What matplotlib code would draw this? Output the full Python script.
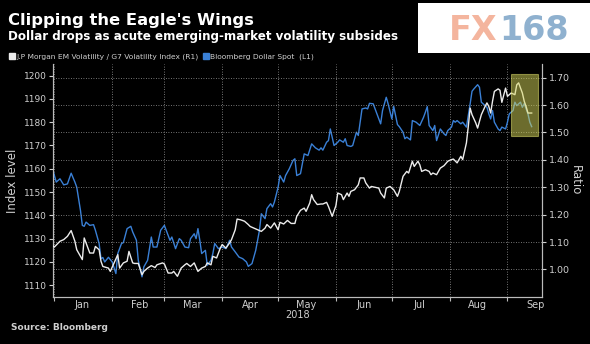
import matplotlib
matplotlib.use('Agg')
import matplotlib.pyplot as plt
import matplotlib.dates as mdates
import pandas as pd
from matplotlib.lines import Line2D
from matplotlib.patches import Rectangle

# Bloomberg Dollar Spot index (left axis)
dollar_dates = [
	'2017-12-31', '2018-01-02', '2018-01-04', '2018-01-06', '2018-01-08', '2018-01-10',
	'2018-01-12', '2018-01-13', '2018-01-15', '2018-01-16', '2018-01-17', '2018-01-18',
	'2018-01-20', '2018-01-22', '2018-01-23', '2018-01-25', '2018-01-26', '2018-01-27',
	'2018-01-28', '2018-01-30', '2018-02-01', '2018-02-03', '2018-02-04', '2018-02-06',
	'2018-02-07', '2018-02-09', '2018-02-11', '2018-02-12', '2018-02-14', '2018-02-15',
	'2018-02-17', '2018-02-18', '2018-02-20', '2018-02-22', '2018-02-23', '2018-02-25',
	'2018-02-27', '2018-03-01', '2018-03-03', '2018-03-04', '2018-03-05', '2018-03-07',
	'2018-03-09', '2018-03-10', '2018-03-12', '2018-03-14', '2018-03-15', '2018-03-17',
	'2018-03-18', '2018-03-19', '2018-03-20', '2018-03-21', '2018-03-23', '2018-03-24',
	'2018-03-26', '2018-03-27', '2018-03-28', '2018-03-30', '2018-04-01', '2018-04-03',
	'2018-04-05', '2018-04-06', '2018-04-08', '2018-04-10', '2018-04-12', '2018-04-14',
	'2018-04-15', '2018-04-17', '2018-04-19', '2018-04-21', '2018-04-22', '2018-04-24',
	'2018-04-25', '2018-04-27', '2018-04-28', '2018-04-29', '2018-05-01', '2018-05-02',
	'2018-05-04', '2018-05-05', '2018-05-07', '2018-05-09', '2018-05-10', '2018-05-11',
	'2018-05-13', '2018-05-14', '2018-05-15', '2018-05-17', '2018-05-19', '2018-05-21',
	'2018-05-23', '2018-05-24', '2018-05-25', '2018-05-27', '2018-05-28', '2018-05-29',
	'2018-05-31', '2018-06-02', '2018-06-03', '2018-06-05', '2018-06-06', '2018-06-07',
	'2018-06-09', '2018-06-10', '2018-06-12', '2018-06-13', '2018-06-15', '2018-06-17',
	'2018-06-18', '2018-06-19', '2018-06-21', '2018-06-23', '2018-06-25', '2018-06-26',
	'2018-06-28', '2018-06-29', '2018-07-01', '2018-07-02', '2018-07-04', '2018-07-05',
	'2018-07-07', '2018-07-08', '2018-07-09', '2018-07-11', '2018-07-12', '2018-07-14',
	'2018-07-16', '2018-07-18', '2018-07-19', '2018-07-20', '2018-07-21', '2018-07-23',
	'2018-07-24', '2018-07-25', '2018-07-27', '2018-07-29', '2018-07-30', '2018-07-31',
	'2018-08-02', '2018-08-03', '2018-08-04', '2018-08-05', '2018-08-07', '2018-08-08',
	'2018-08-10', '2018-08-12', '2018-08-13', '2018-08-14', '2018-08-16', '2018-08-17',
	'2018-08-18', '2018-08-20', '2018-08-21', '2018-08-22', '2018-08-23', '2018-08-24',
	'2018-08-25', '2018-08-27', '2018-08-28', '2018-08-29', '2018-08-31', '2018-09-01',
	'2018-09-02', '2018-09-04', '2018-09-05', '2018-09-06', '2018-09-08', '2018-09-09',
	'2018-09-10', '2018-09-12', '2018-09-13', '2018-09-14',
]
dollar_values = [
	1160.0, 1154.3, 1155.7, 1153.1, 1153.5, 1158.1,
	1154.3, 1152.1, 1142.1, 1135.7, 1135.3, 1137.1,
	1135.7, 1136.0, 1133.6, 1127.9, 1121.4, 1121.9,
	1120.0, 1122.0, 1120.0, 1115.0, 1123.6, 1127.9,
	1128.3, 1134.3, 1135.3, 1132.9, 1129.3, 1120.7,
	1113.6, 1117.9, 1120.7, 1130.7, 1126.4, 1126.4,
	1133.6, 1135.7, 1131.4, 1129.3, 1130.7, 1125.7,
	1130.0, 1129.3, 1126.4, 1126.1, 1130.0, 1132.1,
	1130.0, 1134.3, 1129.3, 1123.6, 1125.0, 1118.6,
	1120.7, 1123.6, 1127.9, 1125.7, 1126.4, 1125.7,
	1129.3, 1126.4, 1124.3, 1122.1, 1121.4, 1120.0,
	1118.1, 1119.3, 1125.0, 1133.6, 1140.7, 1138.6,
	1142.9, 1145.0, 1143.6, 1145.7, 1152.1, 1157.1,
	1154.3, 1157.1, 1160.0, 1163.6, 1164.3, 1157.1,
	1157.9, 1162.1, 1166.4, 1165.7, 1170.7, 1169.0,
	1168.0, 1169.0, 1168.0, 1171.4, 1172.1, 1177.1,
	1170.0, 1171.4, 1172.4, 1171.4, 1172.9, 1170.0,
	1169.6, 1170.0, 1175.7, 1174.3, 1185.7, 1186.1,
	1185.7, 1188.1, 1187.9, 1183.6, 1179.3, 1185.0,
	1190.7, 1187.9, 1181.4, 1186.8, 1179.0, 1178.1,
	1175.7, 1172.9, 1173.6, 1172.4, 1180.7, 1180.0,
	1178.6, 1182.1, 1184.3, 1186.7, 1178.6, 1176.4,
	1178.6, 1172.1, 1177.1, 1175.0, 1174.3, 1176.4,
	1177.9, 1180.7, 1180.0, 1180.7, 1179.3, 1180.0,
	1177.9, 1187.9, 1193.3, 1194.3, 1196.1, 1195.0,
	1188.6, 1187.1, 1186.4, 1183.6, 1181.4, 1185.0,
	1180.0, 1177.1, 1176.4, 1177.9, 1177.1, 1180.0,
	1183.6, 1185.0, 1188.6, 1187.1, 1188.6, 1186.4,
	1188.0, 1183.6, 1180.0, 1178.1,
]

# JP Morgan EM volatility / G7 volatility ratio (right axis)
ratio_dates = [
	'2017-12-31', '2018-01-01', '2018-01-04', '2018-01-06', '2018-01-08', '2018-01-10',
	'2018-01-11', '2018-01-12', '2018-01-13', '2018-01-16', '2018-01-17', '2018-01-18',
	'2018-01-20', '2018-01-22', '2018-01-23', '2018-01-25', '2018-01-26', '2018-01-27',
	'2018-01-30', '2018-01-31', '2018-02-02', '2018-02-04', '2018-02-05', '2018-02-07',
	'2018-02-09', '2018-02-10', '2018-02-12', '2018-02-13', '2018-02-15', '2018-02-17',
	'2018-02-18', '2018-02-20', '2018-02-22', '2018-02-24', '2018-02-25', '2018-02-28',
	'2018-03-01', '2018-03-03', '2018-03-05', '2018-03-06', '2018-03-08', '2018-03-10',
	'2018-03-12', '2018-03-13', '2018-03-15', '2018-03-17', '2018-03-19', '2018-03-21',
	'2018-03-23', '2018-03-24', '2018-03-26', '2018-03-27', '2018-03-29', '2018-03-31',
	'2018-04-01', '2018-04-03', '2018-04-05', '2018-04-06', '2018-04-08', '2018-04-09',
	'2018-04-11', '2018-04-13', '2018-04-15', '2018-04-16', '2018-04-18', '2018-04-20',
	'2018-04-22', '2018-04-24', '2018-04-25', '2018-04-27', '2018-04-29', '2018-05-01',
	'2018-05-02', '2018-05-04', '2018-05-06', '2018-05-08', '2018-05-10', '2018-05-11',
	'2018-05-13', '2018-05-15', '2018-05-16', '2018-05-18', '2018-05-19', '2018-05-20',
	'2018-05-22', '2018-05-24', '2018-05-25', '2018-05-27', '2018-05-28', '2018-05-30',
	'2018-06-01', '2018-06-02', '2018-06-04', '2018-06-05', '2018-06-07', '2018-06-08',
	'2018-06-09', '2018-06-11', '2018-06-13', '2018-06-14', '2018-06-16', '2018-06-17',
	'2018-06-19', '2018-06-20', '2018-06-22', '2018-06-24', '2018-06-25', '2018-06-27',
	'2018-06-28', '2018-06-30', '2018-07-02', '2018-07-04', '2018-07-05', '2018-07-07',
	'2018-07-09', '2018-07-10', '2018-07-12', '2018-07-13', '2018-07-15', '2018-07-16',
	'2018-07-17', '2018-07-19', '2018-07-21', '2018-07-22', '2018-07-23', '2018-07-25',
	'2018-07-27', '2018-07-29', '2018-07-31', '2018-08-02', '2018-08-03', '2018-08-05',
	'2018-08-06', '2018-08-07', '2018-08-08', '2018-08-10', '2018-08-11', '2018-08-12',
	'2018-08-13', '2018-08-15', '2018-08-16', '2018-08-17', '2018-08-18', '2018-08-20',
	'2018-08-21', '2018-08-22', '2018-08-23', '2018-08-24', '2018-08-25', '2018-08-27',
	'2018-08-28', '2018-08-29', '2018-08-31', '2018-09-01', '2018-09-02', '2018-09-03',
	'2018-09-05', '2018-09-06', '2018-09-07', '2018-09-08', '2018-09-09', '2018-09-10',
	'2018-09-11', '2018-09-12', '2018-09-14',
]
ratio_values = [
	1.087, 1.082, 1.103, 1.109, 1.121, 1.142,
	1.123, 1.103, 1.072, 1.036, 1.115, 1.097,
	1.060, 1.060, 1.084, 1.072, 1.030, 1.011,
	1.005, 0.993, 1.024, 1.054, 1.005, 1.024,
	1.030, 1.066, 1.024, 1.022, 1.022, 0.981,
	0.993, 1.005, 1.014, 1.007, 1.017, 1.024,
	1.020, 0.987, 0.987, 0.993, 0.975, 1.005,
	1.017, 1.022, 1.011, 1.024, 0.993, 1.005,
	1.011, 1.024, 1.017, 1.048, 1.042, 1.078,
	1.091, 1.078, 1.097, 1.109, 1.145, 1.184,
	1.181, 1.176, 1.164, 1.157, 1.151, 1.145,
	1.139, 1.151, 1.164, 1.151, 1.170, 1.145,
	1.172, 1.166, 1.179, 1.168, 1.168, 1.194,
	1.216, 1.224, 1.212, 1.243, 1.273, 1.255,
	1.237, 1.239, 1.239, 1.245, 1.230, 1.194,
	1.233, 1.279, 1.273, 1.255, 1.279, 1.267,
	1.285, 1.291, 1.309, 1.334, 1.334, 1.316,
	1.297, 1.303, 1.300, 1.297, 1.279, 1.261,
	1.297, 1.303, 1.291, 1.267, 1.285, 1.340,
	1.358, 1.352, 1.395, 1.376, 1.395, 1.382,
	1.358, 1.364, 1.358, 1.346, 1.352, 1.346,
	1.370, 1.379, 1.395, 1.401, 1.403, 1.389,
	1.401, 1.413, 1.401, 1.462, 1.522, 1.589,
	1.565, 1.535, 1.516, 1.540, 1.565, 1.595,
	1.608, 1.595, 1.571, 1.614, 1.650, 1.659,
	1.654, 1.610, 1.662, 1.632, 1.638, 1.644,
	1.638, 1.674, 1.681, 1.662, 1.644, 1.614,
	1.595, 1.571, 1.571,
]

left_ticks = [1110, 1120, 1130, 1140, 1150, 1160, 1170, 1180, 1190, 1200]
right_ticks = [1.00, 1.10, 1.20, 1.30, 1.40, 1.50, 1.60, 1.70]

BG = 'black'
TXT = '#cfcfcf'
BLUE = '#3a80d6'
WHITE = '#ececec'

dollar = pd.Series(dollar_values, index=pd.to_datetime(dollar_dates))
ratio = pd.Series(ratio_values, index=pd.to_datetime(ratio_dates))

fig = plt.figure(figsize=(5.9, 3.44), dpi=100, facecolor=BG)
ax = fig.add_axes([0.089, 0.137, 0.829, 0.677], facecolor=BG)
ax2 = ax.twinx()

ax.plot(dollar.index, dollar.values, color=BLUE, lw=1.0, zorder=3)
ax2.plot(ratio.index, ratio.values, color=WHITE, lw=1.0, zorder=3)

ax.set_xlim(pd.Timestamp('2017-12-31'), pd.Timestamp('2018-09-19 08:00'))
ax.set_ylim(1105, 1205)
ax2.set_ylim(0.90, 1.75)

ax.set_yticks(left_ticks)
ax2.set_yticks(right_ticks)
ax2.set_yticklabels(['%.2f' % t for t in right_ticks])

# month boundaries carry ticks and grid, labels sit mid-month
ax.xaxis.set_major_locator(mdates.MonthLocator())
ax.xaxis.set_major_formatter(plt.NullFormatter())
ax.xaxis.set_minor_locator(mdates.MonthLocator(bymonthday=16))
ax.xaxis.set_minor_formatter(mdates.DateFormatter('%b'))
ax.tick_params(axis='x', which='minor', length=0, labelsize=7, colors=TXT, pad=2)
ax.tick_params(axis='x', which='major', length=3, color='#bbbbbb', direction='out')
ax.tick_params(axis='y', labelsize=6.5, colors=TXT, length=3, pad=0.8)
ax2.tick_params(axis='y', labelsize=6.8, colors=TXT, length=3, pad=2)

ax.grid(axis='x', which='major', color='#9a9a9a', ls=(0, (1, 2)), lw=0.6)
ax2.grid(axis='y', color='#9a9a9a', ls=(0, (1, 2)), lw=0.6)
ax2.set_axisbelow(True)

for a in (ax, ax2):
	a.spines['top'].set_visible(False)
	for s in ('left', 'right', 'bottom'):
		a.spines[s].set_color('#bbbbbb')
		a.spines[s].set_linewidth(0.8)

ax.set_ylabel('Index level', color=TXT, fontsize=8.5, labelpad=4)
ax2.set_ylabel('Ratio', color=TXT, fontsize=8.5, rotation=270, labelpad=9)
ax.set_xlabel('2018', color=TXT, fontsize=7, labelpad=0)

# highlight on the latest stretch
box_start = mdates.date2num(pd.Timestamp('2018-09-03 04:00'))
box_end = mdates.date2num(pd.Timestamp('2018-09-17 12:00'))
ax2.add_patch(Rectangle((box_start, 1.486), box_end - box_start, 0.228,
	facecolor='#d8d85a', alpha=0.5, edgecolor='#e8e870', lw=0.8, zorder=5))

fig.text(8 / 590, 1 - 25 / 344, "Clipping the Eagle's Wings", color='white',
	fontsize=11.8, fontweight='bold', va='baseline')
fig.text(8 / 590, 1 - 40 / 344, 'Dollar drops as acute emerging-market volatility subsides',
	color='white', fontsize=8.6, fontweight='bold', va='baseline')
fig.text(11 / 590, 1 - 330 / 344, 'Source: Bloomberg', color=TXT, fontsize=6.5,
	fontweight='bold', va='baseline')

handles = [
	Line2D([], [], ls='none', marker='s', ms=4, color=WHITE),
	Line2D([], [], ls='none', marker='s', ms=4, color=BLUE),
]
fig.legend(handles, ['J.P Morgan EM Volatility / G7 Volatility Index (R1)', 'Bloomberg Dollar Spot  (L1)'],
	loc='center left', bbox_to_anchor=(10 / 590, 1 - 57 / 344), ncol=2, frameon=False,
	fontsize=5.4, labelcolor=TXT, handlelength=0.6, handletextpad=0.2, columnspacing=0.7,
	borderpad=0, borderaxespad=0)

# logo panel in the corner
fig.patches.append(Rectangle((418 / 590, 1 - 53 / 344), 172 / 590, 50 / 344,
	transform=fig.transFigure, facecolor='white', edgecolor='none'))
fig.text(497 / 590, 1 - 40 / 344, 'FX', color='#f4b59e', fontsize=24,
	fontweight='bold', ha='right', va='baseline')
fig.text(499 / 590, 1 - 40 / 344, '168', color='#8fb1cf', fontsize=24,
	fontweight='bold', ha='left', va='baseline')

fig.savefig('out.png', dpi=100, facecolor=BG)
